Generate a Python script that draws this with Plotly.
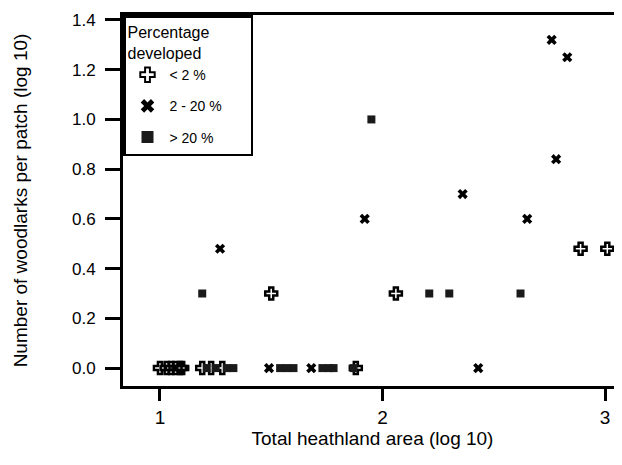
import plotly.graph_objects as go

# <2 % developed
lt2_x = [1.00, 1.03, 1.05, 1.07, 1.09, 1.10, 1.19, 1.23, 1.28, 1.50, 2.06, 2.89, 3.01, 1.88]
lt2_y = [0.00, 0.00, 0.00, 0.00, 0.00, 0.00, 0.00, 0.00, 0.00, 0.30, 0.30, 0.48, 0.48, 0.00]

# 2 - 20 % developed
mid_x = [1.27, 1.49, 1.68, 1.92, 2.36, 2.43, 2.65, 2.76, 2.78, 2.83]
mid_y = [0.48, 0.00, 0.00, 0.60, 0.70, 0.00, 0.60, 1.32, 0.84, 1.25]

# > 20 % developed
gt20_x = [1.19, 1.21, 1.25, 1.30, 1.33, 1.54, 1.57, 1.60, 1.73, 1.76, 1.78, 1.87, 1.95, 2.21, 2.30, 2.62]
gt20_y = [0.30, 0.00, 0.00, 0.00, 0.00, 0.00, 0.00, 0.00, 0.00, 0.00, 0.00, 0.00, 1.00, 0.30, 0.30, 0.30]

series_names = ["< 2 %", "2 - 20 %", "> 20 %"]
x_ticks = [1, 2, 3]
y_ticks = [0.0, 0.2, 0.4, 0.6, 0.8, 1.0, 1.2, 1.4]

FONT = "Liberation Sans, Arial, sans-serif"
PAD = "\u00a0" * 6  # invisible padding to widen the legend box

fig = go.Figure()
fig.add_trace(go.Scatter(
    x=lt2_x, y=lt2_y, mode="markers", name=series_names[0] + PAD, legendgroup="a",
    marker=dict(symbol="cross-open", size=10, color="black", line=dict(color="black", width=2.5)),
))
fig.add_trace(go.Scatter(
    x=mid_x, y=mid_y, mode="markers", name=series_names[1] + PAD, legendgroup="b",
    marker=dict(symbol="x", size=9, color="black", line=dict(width=0)),
))
fig.add_trace(go.Scatter(
    x=gt20_x, y=gt20_y, mode="markers", name=series_names[2] + PAD, legendgroup="c",
    marker=dict(symbol="square", size=8, color="#1a1a1a", line=dict(width=0)),
))

fig.update_layout(
    width=614, height=457,
    margin=dict(l=115, r=0, t=7, b=79, autoexpand=False),
    paper_bgcolor="white", plot_bgcolor="white",
    font=dict(family=FONT, color="black", size=17),
    showlegend=True,
    legend=dict(
        x=0, y=1, xanchor="left", yanchor="top",
        bordercolor="black", borderwidth=2.5, bgcolor="white",
        font=dict(family=FONT, size=14, color="black"),
        title=dict(text="Percentage<br>developed", font=dict(family=FONT, size=16, color="black")),
        tracegroupgap=10, traceorder="grouped", itemsizing="constant",
        itemwidth=34,
    ),
    xaxis=dict(
        range=[0.834, 3.076], tickvals=x_ticks, ticktext=[str(v) for v in x_ticks],
        showline=True, linecolor="black", linewidth=3, mirror=True,
        ticks="outside", ticklen=12, tickwidth=2.5, tickcolor="black",
        showgrid=False, zeroline=False, automargin=False,
        tickfont=dict(family=FONT, size=19),
        title=dict(text="Total heathland area (log 10)", font=dict(family=FONT, size=19), standoff=0),
    ),
    yaxis=dict(
        range=[-0.072, 1.42], tickvals=y_ticks, tickformat=".1f",
        showline=True, linecolor="black", linewidth=3,
        ticks="outside", ticklen=15, tickwidth=2.5, tickcolor="black",
        showgrid=False, zeroline=False, automargin=False, ticklabelstandoff=6,
        tickfont=dict(family=FONT, size=17),
        title=dict(text="Number of woodlarks per patch (log 10)", font=dict(family=FONT, size=19), standoff=40),
    ),
)

fig.write_html("out.html")
